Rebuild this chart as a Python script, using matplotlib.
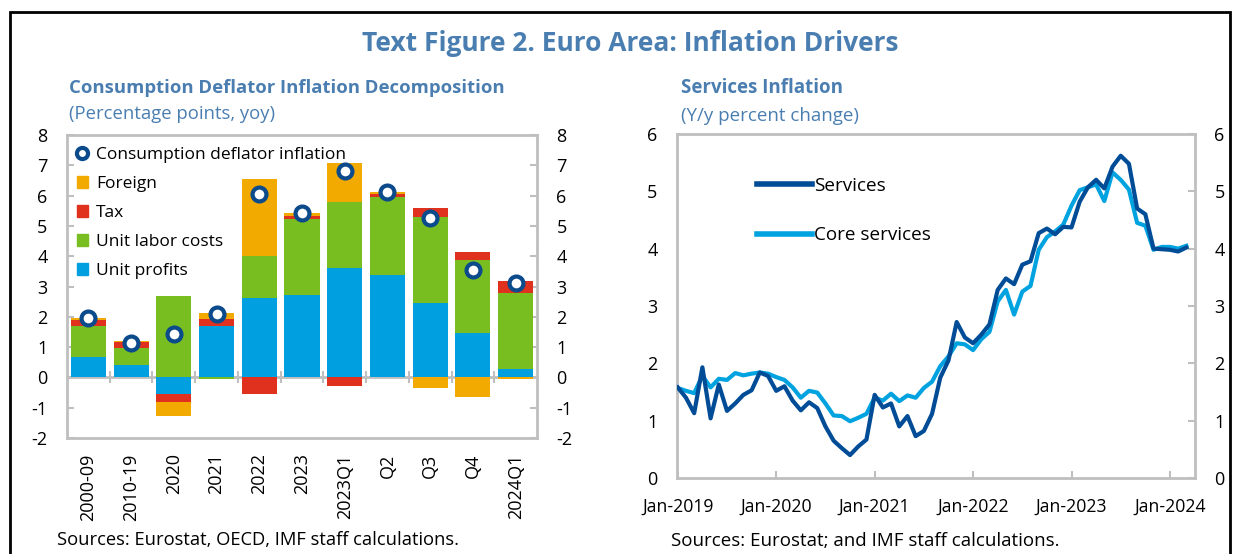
import numpy as np
import matplotlib
matplotlib.use("Agg")
import matplotlib.pyplot as plt
from matplotlib.lines import Line2D
from matplotlib.patches import Patch, Rectangle

plt.rcParams["font.family"] = ["Open Sans", "DejaVu Sans"]

# ---- left panel: consumption deflator decomposition ----
categories = ["2000-09", "2010-19", "2020", "2021", "2022", "2023",
              "2023Q1", "Q2", "Q3", "Q4", "2024Q1"]
unit_profits = [0.68, 0.42, -0.54, 1.71, 2.63, 2.72, 3.61, 3.38, 2.44, 1.46, 0.28]
unit_labor_costs = [1.03, 0.55, 2.68, -0.05, 1.38, 2.50, 2.18, 2.56, 2.84, 2.40, 2.49]
tax = [0.20, 0.20, -0.27, 0.22, -0.54, 0.11, -0.30, 0.11, 0.30, 0.29, 0.40]
foreign = [0.05, 0.02, -0.48, 0.18, 2.54, 0.10, 1.29, 0.06, -0.36, -0.65, -0.05]
deflator_inflation = [1.96, 1.14, 1.42, 2.08, 6.04, 5.43, 6.82, 6.13, 5.25, 3.53, 3.12]

# ---- right panel: services inflation, monthly Jan-2019 .. Mar-2024 ----
services = [1.58, 1.40, 1.13, 1.93, 1.04, 1.63, 1.17, 1.30, 1.45, 1.53, 1.84, 1.78,
            1.52, 1.60, 1.35, 1.18, 1.32, 1.22, 0.90, 0.65, 0.52, 0.40, 0.55, 0.67,
            1.45, 1.23, 1.30, 0.90, 1.08, 0.73, 0.82, 1.12, 1.75, 2.05, 2.72, 2.45,
            2.35, 2.50, 2.68, 3.28, 3.48, 3.38, 3.72, 3.78, 4.27, 4.35, 4.25, 4.38,
            4.37, 4.82, 5.07, 5.20, 5.05, 5.43, 5.62, 5.48, 4.70, 4.60, 4.00, 3.99,
            3.98, 3.95, 4.02]
core_services = [1.57, 1.52, 1.48, 1.78, 1.58, 1.73, 1.71, 1.83, 1.79, 1.82, 1.84, 1.82,
                 1.76, 1.71, 1.58, 1.40, 1.52, 1.49, 1.30, 1.09, 1.08, 0.99, 1.05, 1.12,
                 1.40, 1.35, 1.47, 1.34, 1.44, 1.40, 1.57, 1.68, 1.95, 2.12, 2.35, 2.33,
                 2.23, 2.42, 2.55, 3.08, 3.28, 2.85, 3.25, 3.35, 3.98, 4.20, 4.30, 4.42,
                 4.75, 5.02, 5.07, 5.12, 4.83, 5.33, 5.20, 5.03, 4.45, 4.40, 3.98, 4.03,
                 4.03, 4.00, 4.05]
month_labels = ["Jan-2019", "Jan-2020", "Jan-2021", "Jan-2022", "Jan-2023", "Jan-2024"]

TITLE_BLUE = "#4A7EB1"
FRAME_GRAY = "#BFBFBF"
C_PROFITS = "#009FDF"
C_ULC = "#78BE21"
C_TAX = "#E0301E"
C_FOREIGN = "#F2A900"
C_DOT = "#0B4A8B"
C_SERV = "#004C97"
C_CORE = "#00A3E0"

fig = plt.figure(figsize=(12.36, 5.54), dpi=100)

# outer black frame
fig.patches.append(Rectangle((10 / 1236, -0.1), 1220 / 1236, 1.1 - 12 / 554,
                             transform=fig.transFigure, fill=False,
                             edgecolor="black", linewidth=2))

fig.text(0.51, 0.922, "Text Figure 2. Euro Area: Inflation Drivers", ha="center",
         va="center", fontsize=19, fontweight="bold", color=TITLE_BLUE)
fig.text(0.0558, 0.841, "Consumption Deflator Inflation Decomposition", ha="left",
         va="center", fontsize=13.3, fontweight="bold", color=TITLE_BLUE)
fig.text(0.0558, 0.794, "(Percentage points, yoy)", ha="left", va="center",
         fontsize=13.3, color=TITLE_BLUE)
fig.text(0.551, 0.841, "Services Inflation", ha="left", va="center",
         fontsize=13.5, fontweight="bold", color=TITLE_BLUE)
fig.text(0.551, 0.791, "(Y/y percent change)", ha="left", va="center",
         fontsize=13.5, color=TITLE_BLUE)
fig.text(0.0461, 0.025, "Sources: Eurostat, OECD, IMF staff calculations.",
         ha="left", va="center", fontsize=13.2)
fig.text(0.543, 0.0235, "Sources: Eurostat; and IMF staff calculations.",
         ha="left", va="center", fontsize=13.5)

# ---------------- left chart ----------------
ax1 = fig.add_axes([0.0542, 0.2094, 0.3803, 0.5469])
x = np.arange(len(categories))
pos_bottom = np.zeros(len(categories))
neg_bottom = np.zeros(len(categories))
for vals, col in [(unit_profits, C_PROFITS), (unit_labor_costs, C_ULC),
                  (tax, C_TAX), (foreign, C_FOREIGN)]:
    v = np.array(vals)
    bottom = np.where(v >= 0, pos_bottom, neg_bottom)
    ax1.bar(x, v, bottom=bottom, width=0.82, color=col, zorder=2)
    pos_bottom += np.where(v >= 0, v, 0)
    neg_bottom += np.where(v < 0, v, 0)
ax1.plot(x, deflator_inflation, linestyle="none", marker="o", markersize=10,
         markerfacecolor="white", markeredgecolor=C_DOT, markeredgewidth=3, zorder=4)

ax1.set_xlim(-0.5, len(categories) - 0.5)
ax1.set_ylim(-2, 8)
ax1.set_yticks(range(-2, 9))
ax1.set_yticklabels([str(v) for v in range(-2, 9)])
ax1.tick_params(axis="y", which="both", direction="in", length=5, color=FRAME_GRAY,
                width=1.5, labelsize=13, left=True, right=True,
                labelleft=True, labelright=True, pad=14)
ax1.set_xticks(x)
ax1.set_xticklabels(categories, rotation=90)
ax1.tick_params(axis="x", length=0, labelsize=13, pad=11)
for s in ax1.spines.values():
    s.set_color(FRAME_GRAY)
    s.set_linewidth(2)

# zero axis with category separators
zero_ax = ax1.secondary_xaxis(0.2)
zero_ax.set_xticks(np.arange(0.5, len(categories) - 1, 1.0))
zero_ax.set_xticklabels([])
zero_ax.tick_params(direction="inout", length=8, width=1.5, color=FRAME_GRAY)
zero_ax.spines["bottom"].set_color(FRAME_GRAY)
zero_ax.spines["bottom"].set_linewidth(2)

legend_handles = [
    Line2D([], [], linestyle="none", marker="o", markersize=8,
           markerfacecolor="white", markeredgecolor=C_DOT, markeredgewidth=3),
    Patch(color=C_FOREIGN), Patch(color=C_TAX), Patch(color=C_ULC), Patch(color=C_PROFITS)]
legend_labels = ["Consumption deflator inflation", "Foreign", "Tax",
                 "Unit labor costs", "Unit profits"]
ax1.legend(legend_handles, legend_labels, loc="upper left",
           bbox_to_anchor=(-0.005, 1.0), frameon=False, fontsize=12.5,
           handlelength=0.65, handleheight=0.65, handletextpad=0.45,
           labelspacing=0.75, borderaxespad=0.3)

# ---------------- right chart ----------------
ax2 = fig.add_axes([0.5477, 0.1372, 0.4191, 0.621])
months = np.arange(len(services))
ax2.plot(months, services, color=C_SERV, linewidth=3, label="Services", zorder=3)
ax2.plot(months, core_services, color=C_CORE, linewidth=3, label="Core services", zorder=2)
ax2.set_xlim(-0.1, 63.05)
ax2.set_ylim(0, 6)
ax2.set_yticks(range(0, 7))
ax2.tick_params(axis="y", direction="in", length=5, color=FRAME_GRAY, width=1.5,
                labelsize=13, left=False, right=True, labelleft=True,
                labelright=True, pad=14)
ax2.set_xticks(np.arange(0, len(services), 12))
ax2.set_xticklabels(month_labels)
ax2.tick_params(axis="x", direction="in", length=5, color=FRAME_GRAY, width=1.5,
                labelsize=12.7, pad=14)
for s in ax2.spines.values():
    s.set_color(FRAME_GRAY)
    s.set_linewidth(2)
leg = ax2.legend(loc="upper left", bbox_to_anchor=(0.122, 0.925), frameon=False,
                 fontsize=13.6, handlelength=2.9, handletextpad=0.1, labelspacing=1.68)
for h in leg.get_lines():
    h.set_linewidth(4)

fig.savefig("out.png", dpi=100)
